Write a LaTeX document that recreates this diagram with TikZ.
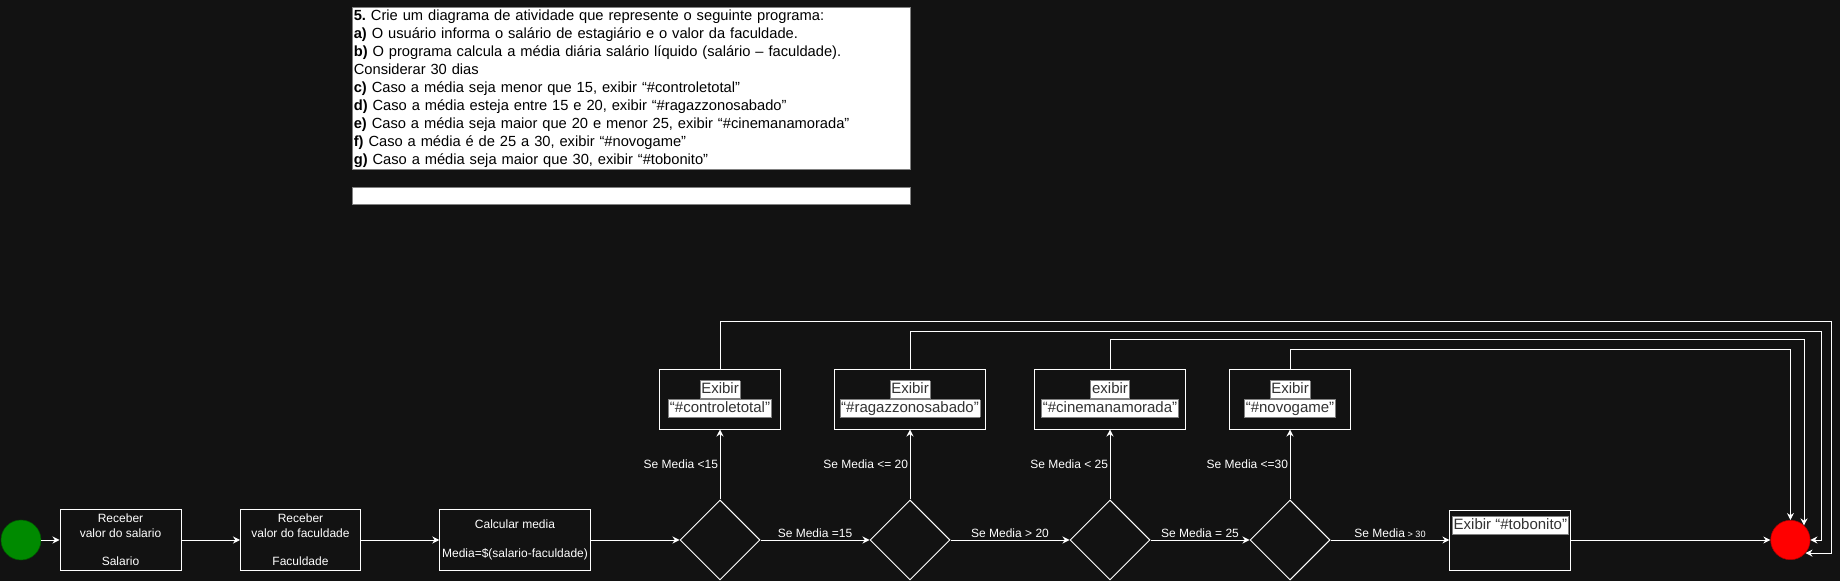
\documentclass[tikz,border=0pt]{standalone}
\usepackage{fontspec}
\setmainfont{Liberation Sans}
\usepackage{xcolor}
\usepackage{tikz}
\definecolor{canvas}{RGB}{18, 18, 18}
\definecolor{startgreen}{RGB}{0, 138, 0}
\definecolor{startline}{RGB}{0, 87, 0}
\definecolor{endred}{RGB}{255, 0, 0}
\definecolor{endline}{RGB}{178, 0, 0}
\definecolor{labelgray}{RGB}{51, 51, 51}
\usetikzlibrary{shapes, arrows.meta, positioning, calc}
\frenchspacing

% white label background, as the editor draws it
\newcommand{\hilite}[1]{{\setlength{\fboxsep}{0.6pt}\setlength{\fboxrule}{0.6pt}%
  \fcolorbox{gray}{white}{\rule[-2.6pt]{0pt}{11pt}#1}}}

\begin{document}
\begin{tikzpicture}[
    node distance=1.75cm,
    flow/.style={draw=white, line width=0.7pt, -{Stealth[length=5pt, width=5pt]}},
    stepbox/.style={rectangle, draw=white, line width=0.7pt, minimum width=3.025cm, minimum height=1.525cm, align=center, inner sep=0pt, text=white, font=\fontsize{8.54}{10.2}\selectfont},
    showbox/.style={stepbox, minimum height=1.5cm, text=labelgray, font=\fontsize{10.67}{13.5}\selectfont},
    choice/.style={diamond, draw=white, line width=0.7pt, minimum width=2cm, minimum height=2cm, inner sep=0pt},
    cond/.style={text=white, inner sep=1pt, font=\fontsize{8.54}{10.2}\selectfont},
    note/.style={rectangle, draw=gray, fill=white, line width=0.6pt, text=black, align=left, font=\fontsize{10.45}{12.8}\selectfont}
]
    \fill[canvas] (0, 0) rectangle (46, 14.525);
    \useasboundingbox (0, 0) rectangle (46, 14.525);

    % enunciado
    \node[note, anchor=north west, text width=13.88cm, inner xsep=1pt, inner ysep=0pt, minimum height=4.05cm] (task) at (8.8, 14.35) {%
        \textbf{5.} Crie um diagrama de atividade que represente o seguinte programa:\\
        \textbf{a)} O usuário informa o salário de estagiário e o valor da faculdade.\\
        \textbf{b)} O programa calcula a média diária salário líquido (salário – faculdade).\\
        Considerar 30 dias\\
        \textbf{c)} Caso a média seja menor que 15, exibir “\#controletotal”\\
        \textbf{d)} Caso a média esteja entre 15 e 20, exibir “\#ragazzonosabado”\\
        \textbf{e)} Caso a média seja maior que 20 e menor 25, exibir “\#cinemanamorada”\\
        \textbf{f)} Caso a média é de 25 a 30, exibir “\#novogame”\\
        \textbf{g)} Caso a média seja maior que 30, exibir “\#tobonito”};
    \node[note, below=0.425cm of task, minimum width=13.95cm, minimum height=0.425cm, inner sep=0pt] (blank) {};

    % fluxo principal
    \node[circle, fill=startgreen, draw=startline, minimum size=1cm, inner sep=0pt] (start) at (0.525, 1.025) {};
    \node[stepbox] (salario) at (3.0125, 1.025) {Receber\\valor do salario\\~\\Salario};
    \node[stepbox, minimum width=3cm] (facul) at (7.5125, 1.025) {Receber\\valor do faculdade\\~\\Faculdade};
    \node[stepbox, minimum width=3.76cm] (media) at (12.875, 1.025) {Calcular media\\~\\Media=\$(salario-faculdade)};

    \node[choice] (d1) at (18, 1.025) {};
    \node[choice] (d2) at (22.75, 1.025) {};
    \node[choice] (d3) at (27.75, 1.025) {};
    \node[choice] (d4) at (32.25, 1.025) {};

    \node[showbox, align=left, minimum width=3.025cm, text height=13.5pt, text depth=28.5pt] (tob) at (37.76, 1.025) {\hilite{Exibir “\#tobonito”}};
    \node[circle, fill=endred, draw=endline, minimum size=0.985cm, inner sep=0pt] (end) at (44.76, 1.025) {};

    % saidas
    \node[showbox, above=of d1] (ctl) {\hilite{Exibir}\\\hilite{“\#controletotal”}};
    \node[showbox, above=of d2, minimum width=3.775cm] (rag) {\hilite{Exibir}\\\hilite{“\#ragazzonosabado”}};
    \node[showbox, above=of d3, minimum width=3.775cm] (cin) {\hilite{exibir}\\\hilite{“\#cinemanamorada”}};
    \node[showbox, above=of d4] (nov) {\hilite{Exibir}\\\hilite{“\#novogame”}};

    \draw[flow] (start) -- (salario);
    \draw[flow] (salario) -- (facul);
    \draw[flow] (facul) -- (media);
    \draw[flow] (media) -- (d1);
    \draw[flow] (d1) -- (d2) node[cond, midway, above] {Se Media =15};
    \draw[flow] (d2) -- (d3) node[cond, midway, above] {Se Media > 20};
    \draw[flow] (d3) -- (d4) node[cond, midway, above] {Se Media = 25};
    \draw[flow] (d4) -- (tob) node[cond, midway, above] {Se Media{\fontsize{6.5}{7}\selectfont{} > 30}};
    \draw[flow] (tob) -- (end);

    \draw[flow] (d1) -- (ctl) node[cond, midway, left] {Se Media <15};
    \draw[flow] (d2) -- (rag) node[cond, midway, left] {Se Media <= 20};
    \draw[flow] (d3) -- (cin) node[cond, midway, left] {Se Media < 25};
    \draw[flow] (d4) -- (nov) node[cond, midway, left] {Se Media <=30};

    % retornos ao fim
    \coordinate (r1) at (45.775, 6.5);
    \coordinate (r2) at (45.525, 6.25);
    \draw[flow] (ctl.north) |- (r1) |- (end.-41);
    \draw[flow] (rag.north) |- (r2) |- (end.east);
    \draw[flow] (cin.north) -- ++(0, 0.725) -| (end.47);
    \draw[flow] (nov.north) -- ++(0, 0.475) -| (end.north);

\end{tikzpicture}
\end{document}
